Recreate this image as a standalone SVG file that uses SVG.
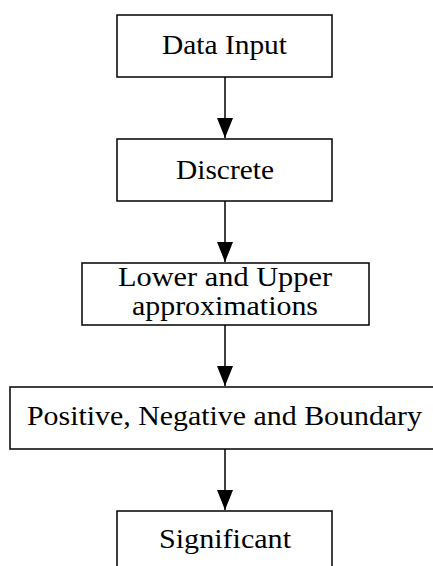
<svg xmlns="http://www.w3.org/2000/svg" width="433" height="566" viewBox="0 0 433 566">
<style>
.box{fill:#fff;stroke:#000;stroke-width:1.5}
.lbl{font-family:"Liberation Serif","Times New Roman",serif;font-size:27px;fill:#000;text-anchor:middle}
.conn{stroke:#000;stroke-width:1.5;fill:none}
</style>
<defs>
<marker id="ah" markerUnits="userSpaceOnUse" markerWidth="20" markerHeight="16" refX="20" refY="8" orient="auto" viewBox="0 0 20 16">
<path d="M0,0 L20,8 L0,16 Z" fill="#000"/>
</marker>
</defs>
<rect width="433" height="566" fill="#fff"/>
<g id="n1"><rect class="box" x="117" y="15" width="215" height="62"/><text class="lbl" x="224.5" y="54" textLength="125" lengthAdjust="spacingAndGlyphs">Data Input</text></g>
<g id="n2"><rect class="box" x="117" y="139" width="215" height="62"/><text class="lbl" x="225" y="179" textLength="98" lengthAdjust="spacingAndGlyphs">Discrete</text></g>
<g id="n3"><rect class="box" x="82" y="263" width="287" height="62"/><text class="lbl" x="225" y="286" textLength="214" lengthAdjust="spacingAndGlyphs">Lower and Upper</text><text class="lbl" x="225" y="315" textLength="186" lengthAdjust="spacingAndGlyphs">approximations</text></g>
<g id="n4"><rect class="box" x="10" y="387" width="430" height="62"/><text class="lbl" x="224.5" y="425" textLength="395" lengthAdjust="spacingAndGlyphs">Positive, Negative and Boundary</text></g>
<g id="n5"><rect class="box" x="117" y="511" width="215" height="62"/><text class="lbl" x="225" y="548" textLength="132" lengthAdjust="spacingAndGlyphs">Significant</text></g>
<g id="connectors">
<line class="conn" x1="225" y1="77" x2="225" y2="138" marker-end="url(#ah)"/>
<line class="conn" x1="225" y1="201" x2="225" y2="262" marker-end="url(#ah)"/>
<line class="conn" x1="225" y1="325" x2="225" y2="386" marker-end="url(#ah)"/>
<line class="conn" x1="225" y1="449" x2="225" y2="510" marker-end="url(#ah)"/>
</g>
</svg>
